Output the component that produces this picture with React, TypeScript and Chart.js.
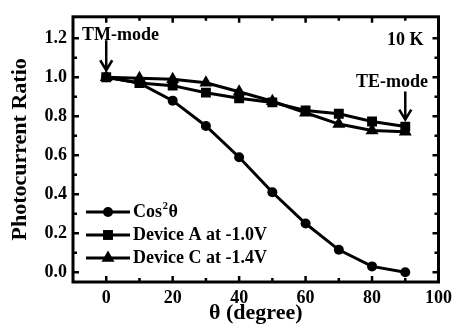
import React, { useEffect, useRef } from "react";
import { Chart, registerables } from "chart.js";

Chart.register(...registerables);

const angles = [0, 10, 20, 30, 40, 50, 60, 70, 80, 90];
const cosSquared = [1.0, 0.97, 0.88, 0.75, 0.59, 0.41, 0.25, 0.115, 0.03, 0.0];
const deviceA = [1.0, 0.97, 0.957, 0.921, 0.892, 0.871, 0.83, 0.813, 0.773, 0.747];
const deviceC = [1.0, 0.995, 0.99, 0.972, 0.926, 0.877, 0.818, 0.76, 0.727, 0.72];

const xTickValues = [0, 20, 40, 60, 80, 100];
const yTickValues = [0, 0.2, 0.4, 0.6, 0.8, 1.0, 1.2];
const xMinorValues = [0, 10, 20, 30, 40, 50, 60, 70, 80, 90, 100];
const yMinorValues = [0, 0.1, 0.2, 0.3, 0.4, 0.5, 0.6, 0.7, 0.8, 0.9, 1.0, 1.1, 1.2];

const seriesNames = ["Cos²θ", "Device A at -1.0V", "Device C at -1.4V"];
const seriesStyles = ["circle", "rect", "triangle"];
const seriesRadius = [5, 7, 7.5];

const FONT = '"Liberation Serif", "Times New Roman", serif';

function drawMarker(ctx: CanvasRenderingContext2D, style: string, x: number, y: number, r: number) {
  ctx.beginPath();
  if (style === "circle") {
    ctx.arc(x, y, r, 0, Math.PI * 2);
  } else if (style === "rect") {
    const s = r / Math.SQRT2;
    ctx.rect(x - s, y - s, 2 * s, 2 * s);
  } else {
    const half = (r * Math.sqrt(3)) / 2;
    ctx.moveTo(x, y - r);
    ctx.lineTo(x + half, y + r / 2);
    ctx.lineTo(x - half, y + r / 2);
    ctx.closePath();
  }
  ctx.fill();
}

function drawArrow(ctx: CanvasRenderingContext2D, x: number, yTop: number, yTip: number) {
  ctx.beginPath();
  ctx.moveTo(x, yTop);
  ctx.lineTo(x, yTip);
  ctx.moveTo(x - 6, yTip - 10);
  ctx.lineTo(x, yTip);
  ctx.lineTo(x + 6, yTip - 10);
  ctx.stroke();
}

const framePlugin = {
  id: "frame",
  afterDraw(chart: any) {
    const { ctx, chartArea: a } = chart;
    const x = chart.scales.x;
    const y = chart.scales.y;
    ctx.save();
    ctx.strokeStyle = "#000";
    ctx.fillStyle = "#000";
    ctx.lineWidth = 3;
    ctx.strokeRect(a.left, a.top, a.right - a.left, a.bottom - a.top);

    ctx.lineWidth = 2.5;
    ctx.beginPath();
    xMinorValues.forEach((v) => {
      const px = x.getPixelForValue(v);
      const len = xTickValues.includes(v) ? 6 : 4;
      ctx.moveTo(px, a.bottom);
      ctx.lineTo(px, a.bottom - len);
      ctx.moveTo(px, a.top);
      ctx.lineTo(px, a.top + len);
    });
    yMinorValues.forEach((v) => {
      const py = y.getPixelForValue(v);
      const major = yTickValues.some((t) => Math.abs(t - v) < 1e-6);
      const len = major ? 6 : 4;
      ctx.moveTo(a.left, py);
      ctx.lineTo(a.left + len, py);
      ctx.moveTo(a.right, py);
      ctx.lineTo(a.right - len, py);
    });
    ctx.stroke();

    // annotations
    ctx.font = `bold 18px ${FONT}`;
    ctx.textBaseline = "middle";
    ctx.textAlign = "center";
    ctx.fillText("TM-mode", x.getPixelForValue(4.3), y.getPixelForValue(1.213));
    ctx.fillText("TE-mode", x.getPixelForValue(86), y.getPixelForValue(0.975));
    ctx.fillText("10 K", x.getPixelForValue(90), y.getPixelForValue(1.188));

    ctx.lineWidth = 2.5;
    const tm = y.getPixelForValue(cosSquared[0]) - 7;
    drawArrow(ctx, x.getPixelForValue(angles[0]), tm - 30, tm);
    const te = y.getPixelForValue(deviceA[9]) - 7;
    drawArrow(ctx, x.getPixelForValue(angles[9]), te - 28, te);

    // legend
    const rows = [212, 235, 258];
    const lx0 = a.left + 13;
    const lx1 = a.left + 57;
    const mx = (lx0 + lx1) / 2;
    ctx.textAlign = "left";
    rows.forEach((ry, i) => {
      ctx.lineWidth = 3;
      ctx.beginPath();
      ctx.moveTo(lx0, ry);
      ctx.lineTo(lx1, ry);
      ctx.stroke();
      drawMarker(ctx, seriesStyles[i], mx, ry, seriesRadius[i]);
      const tx = lx1 + 3;
      if (i === 0) {
        ctx.font = `bold 18px ${FONT}`;
        ctx.fillText("Cos", tx, ry);
        const w = ctx.measureText("Cos").width;
        ctx.font = `bold 11px ${FONT}`;
        ctx.fillText("2", tx + w + 0.5, ry - 6);
        const w2 = ctx.measureText("2").width;
        ctx.font = `bold 18px ${FONT}`;
        ctx.fillText("θ", tx + w + w2 + 1, ry);
      } else {
        ctx.font = `bold 18px ${FONT}`;
        ctx.fillText(seriesNames[i], tx, ry);
      }
    });
    ctx.restore();
  },
};

export default function App() {
  const ref = useRef<HTMLCanvasElement>(null);
  useEffect(() => {
    document.body.style.margin = "0";
    if (!ref.current) return;
    const mk = (label: string, data: number[], i: number) => ({
      label,
      data: angles.map((a, k) => ({ x: a, y: data[k] })),
      borderColor: "#000",
      backgroundColor: "#000",
      borderWidth: 3,
      pointStyle: seriesStyles[i],
      pointRadius: seriesRadius[i],
      pointBorderWidth: 0,
      pointBackgroundColor: "#000",
      tension: 0,
    });
    const chart = new Chart(ref.current, {
      type: "line",
      data: {
        datasets: [
          mk(seriesNames[2], deviceC, 2),
          mk(seriesNames[1], deviceA, 1),
          mk(seriesNames[0], cosSquared, 0),
        ],
      },
      options: {
        responsive: false,
        animation: false,
        devicePixelRatio: 1,
        layout: { padding: { top: 8, right: 15, left: 0, bottom: 0 } },
        plugins: { legend: { display: false }, tooltip: { enabled: false } },
        scales: {
          x: {
            type: "linear",
            min: -10,
            max: 100,
            afterBuildTicks: (s: any) => {
              s.ticks = xTickValues.map((v) => ({ value: v }));
            },
            afterFit: (s: any) => {
              s.height = 48;
            },
            ticks: {
              color: "#000",
              font: { family: FONT, size: 18, weight: "bold" },
              padding: 6,
              maxRotation: 0,
            },
            grid: { drawOnChartArea: false, drawTicks: false },
            border: { display: false },
            title: {
              display: true,
              text: "θ (degree)",
              color: "#000",
              font: { family: FONT, size: 22, weight: "bold" },
              padding: { top: 0, bottom: 3 },
            },
          },
          y: {
            type: "linear",
            min: -0.05,
            max: 1.31,
            afterBuildTicks: (s: any) => {
              s.ticks = yTickValues.map((v) => ({ value: v }));
            },
            afterFit: (s: any) => {
              s.width = 73;
            },
            ticks: {
              color: "#000",
              font: { family: FONT, size: 18, weight: "bold" },
              padding: 6,
              callback: (v: any) => Number(v).toFixed(1),
            },
            grid: { drawOnChartArea: false, drawTicks: false },
            border: { display: false },
            title: {
              display: true,
              text: "Photocurrent Ratio",
              color: "#000",
              font: { family: FONT, size: 22, weight: "bold" },
              padding: { top: 7, bottom: 0 },
            },
          },
        },
      },
      plugins: [framePlugin],
    });
    return () => chart.destroy();
  }, []);
  return (
    <div style={{ width: 458, height: 330, background: "#fff" }}>
      <canvas ref={ref} width={458} height={330} style={{ display: "block" }} />
    </div>
  );
}
